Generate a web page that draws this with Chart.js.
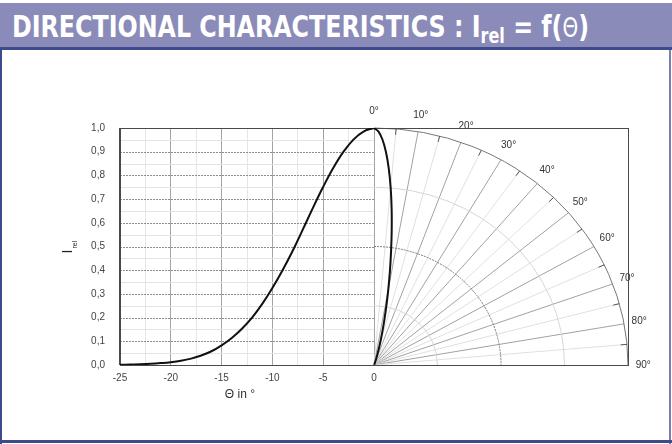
<!DOCTYPE html>
<html lang="en">
<head>
<meta charset="UTF-8">
<title>Directional characteristics</title>
<script src="https://cdn.jsdelivr.net/npm/chart.js"></script>
<style>
    html, body { margin: 0; padding: 0; background: #fff; }
    .frame {
        position: relative;
        width: 672px;
        height: 444px;
        overflow: hidden;
        background: #fff;
    }
    .header {
        position: absolute;
        left: 0; top: 3px;
        width: 672px; height: 44px;
        background: #8b8bb9;
        border-bottom: 3px solid #3d4b8d;
    }
    .header .txt {
        position: absolute;
        left: 12px; top: 5px;
        display: inline-block;
        white-space: nowrap;
        color: #fff;
        font-family: "Liberation Sans Narrow", "DejaVu Sans Condensed", "Arial Narrow", sans-serif;
        font-stretch: condensed;
        font-weight: bold;
        font-size: 31px;
        line-height: 36px;
        transform-origin: 0 0;
    }
    .header .txt sub { font-size: 21px; vertical-align: -6px; line-height: 0; }
    .header .txt .th { font-family: "DejaVu Sans", sans-serif; font-weight: normal; font-size: 26px; }
    .side-l, .side-r, .bottom { position: absolute; background: #3d4b8d; }
    .side-l { left: 0; top: 50px; width: 2px; height: 394px; }
    .side-r { right: 1px; top: 50px; width: 2px; height: 394px; background: #7d7db0; }
    .bottom { left: 0; bottom: 1px; width: 672px; height: 3px; }
    #chart { position: absolute; left: 0; top: 50px; }
</style>
</head>
<body>
<div class="frame">
    <div class="header"><span class="txt" id="title">DIRECTIONAL CHARACTERISTICS : I<sub>rel</sub> = f(<span class="th">&Theta;</span>)</span></div>
    <canvas id="chart" width="672" height="388"></canvas>
    <div class="side-l"></div>
    <div class="side-r"></div>
    <div class="bottom"></div>
</div>

<script>
    // angle in degrees (left half of the diagram, Cartesian)
    const thetaDeg = [-25, -24, -23, -22, -21, -20, -19, -18, -17, -16, -15, -14, -13,
                      -12, -11, -10, -9, -8, -7, -6, -5, -4, -3, -2, -1, 0];
    // relative intensity
    const iRel = [0.001, 0.002, 0.003, 0.005, 0.008, 0.012, 0.018, 0.027, 0.040, 0.058, 0.083, 0.114, 0.153,
                  0.200, 0.258, 0.325, 0.400, 0.482, 0.572, 0.664, 0.752, 0.832, 0.900, 0.952, 0.986, 1.000];

    // polar quadrant on the right
    const polarAngles = [0, 10, 20, 30, 40, 50, 60, 70, 80, 90];
    const angleLabels = ['0°', '10°', '20°', '30°', '40°', '50°', '60°', '70°', '80°', '90°'];
    const polarRings = [0.25, 0.5, 0.75, 1.0];
    const xHalf = 25; // one radius unit across equals 25 units of the theta axis

    // fit header text width
    const title = document.getElementById('title');
    const w = title.getBoundingClientRect().width;
    title.style.transform = 'scaleX(' + (577 / w) + ')';

    const cartesian = thetaDeg.map((t, i) => ({ x: t, y: iRel[i] }));
    // same curve drawn in polar form (symmetric, using |theta|)
    const lobe = thetaDeg.slice().reverse().map((t, k) => {
        const r = iRel[iRel.length - 1 - k];
        const a = Math.abs(t) * Math.PI / 180;
        return { x: xHalf * r * Math.sin(a), y: r * Math.cos(a) };
    });

    const fmt = v => v.toFixed(1).replace('.', ',');

    const polarGrid = {
        id: 'polarGrid',
        beforeDatasetsDraw(chart) {
            const { ctx, chartArea: a, scales: { x, y } } = chart;
            const cx = x.getPixelForValue(0), cy = y.getPixelForValue(0);
            const rx = x.getPixelForValue(xHalf) - cx, ry = cy - y.getPixelForValue(1);
            ctx.save();

            // horizontal grid, left half only
            for (let k = 1; k < 20; k++) {
                const py = Math.round(y.getPixelForValue(k * 0.05)) + 0.5;
                ctx.beginPath();
                if (k % 2 === 0) { ctx.strokeStyle = '#8e8e8e'; ctx.setLineDash([2, 1]); }
                else { ctx.strokeStyle = '#e4e4e4'; ctx.setLineDash([]); }
                ctx.lineWidth = 1;
                ctx.moveTo(a.left, py);
                ctx.lineTo(cx, py);
                ctx.stroke();
            }
            ctx.setLineDash([]);

            // radial lines every 5 degrees
            for (let d = 5; d < 90; d += 5) {
                const r = d * Math.PI / 180;
                ctx.beginPath();
                ctx.strokeStyle = d % 10 === 0 ? '#a2a2a2' : '#e0e0e0';
                ctx.lineWidth = 1;
                ctx.moveTo(cx, cy);
                ctx.lineTo(cx + rx * Math.sin(r), cy - ry * Math.cos(r));
                ctx.stroke();
            }

            // rings
            polarRings.forEach(p => {
                ctx.beginPath();
                if (p === 0.5) { ctx.strokeStyle = '#7a7a7a'; ctx.setLineDash([2, 1]); }
                else if (p === 1) { ctx.strokeStyle = '#777'; ctx.setLineDash([]); }
                else { ctx.strokeStyle = '#d6d6d6'; ctx.setLineDash([]); }
                ctx.lineWidth = 1;
                ctx.ellipse(cx, cy, rx * p, ry * p, 0, -Math.PI / 2, 0);
                ctx.stroke();
            });
            ctx.setLineDash([]);

            // small ticks on outer ring
            for (let d = 5; d < 90; d += 10) {
                const r = d * Math.PI / 180;
                ctx.beginPath();
                ctx.strokeStyle = '#555';
                ctx.moveTo(cx + rx * Math.sin(r), cy - ry * Math.cos(r));
                ctx.lineTo(cx + rx * 0.975 * Math.sin(r), cy - ry * 0.975 * Math.cos(r));
                ctx.stroke();
            }

            // angle labels
            ctx.fillStyle = '#333';
            ctx.font = '10px "Liberation Sans", Arial, sans-serif';
            ctx.textAlign = 'center';
            ctx.textBaseline = 'middle';
            polarAngles.forEach((d, i) => {
                const r = d * Math.PI / 180;
                ctx.fillText(angleLabels[i], cx + rx * 1.06 * Math.sin(r), cy - ry * 1.07 * Math.cos(r));
            });

            // frame
            ctx.strokeStyle = '#4a4a4a';
            ctx.lineWidth = 1;
            ctx.strokeRect(Math.round(a.left) + 0.5, Math.round(a.top) + 0.5,
                Math.round(a.right - a.left), Math.round(a.bottom - a.top));
            ctx.lineWidth = 2;
            ctx.beginPath();
            ctx.moveTo(a.left, a.top);
            ctx.lineTo(a.left, a.bottom);
            ctx.stroke();

            // axis titles
            ctx.fillStyle = '#333';
            ctx.font = '12px "Liberation Sans", Arial, sans-serif';
            ctx.textAlign = 'center';
            ctx.textBaseline = 'alphabetic';
            ctx.fillText('Θ in °', x.getPixelForValue(-13.2), a.bottom + 33);

            ctx.translate(72, y.getPixelForValue(0.47));
            ctx.rotate(-Math.PI / 2);
            ctx.textAlign = 'left';
            ctx.fillStyle = '#222';
            ctx.font = '14px "Liberation Sans", Arial, sans-serif';
            ctx.fillText('I', 0, 0);
            ctx.font = '7px "Liberation Sans", Arial, sans-serif';
            ctx.fillText('rel', 5, 5);
            ctx.restore();
        }
    };

    new Chart(document.getElementById('chart').getContext('2d'), {
        type: 'scatter',
        data: {
            datasets: [
                {
                    data: cartesian,
                    showLine: true,
                    borderColor: '#111',
                    borderWidth: 2,
                    pointRadius: 0,
                    tension: 0.4
                },
                {
                    data: lobe,
                    showLine: true,
                    borderColor: '#111',
                    borderWidth: 2,
                    pointRadius: 0,
                    tension: 0.3
                }
            ]
        },
        options: {
            responsive: false,
            animation: false,
            events: [],
            layout: { padding: { left: 80, right: 44, top: 78, bottom: 43 } },
            plugins: { legend: { display: false }, tooltip: { enabled: false } },
            scales: {
                x: {
                    type: 'linear',
                    min: -25,
                    max: 25,
                    afterFit: s => { s.height = 30; },
                    border: { display: false },
                    grid: {
                        drawTicks: false,
                        color: c => {
                            const v = c.tick ? c.tick.value : 0;
                            if (v > 0) return 'rgba(0,0,0,0)';
                            return Math.abs(v % 5) < 1e-6 ? '#a4a4a4' : '#e6e6e6';
                        }
                    },
                    ticks: {
                        stepSize: 2.5,
                        autoSkip: false,
                        maxRotation: 0,
                        padding: 7,
                        color: '#444',
                        font: { family: '"Liberation Sans", Arial, sans-serif', size: 10 },
                        callback: v => (v <= 0 && Math.abs(v % 5) < 1e-6) ? String(Math.round(v)) : ''
                    }
                },
                y: {
                    min: 0,
                    max: 1,
                    afterFit: s => { s.width = 40; },
                    border: { display: false },
                    grid: { display: false },
                    ticks: {
                        stepSize: 0.1,
                        padding: 7,
                        color: '#444',
                        font: { family: '"Liberation Sans", Arial, sans-serif', size: 10 },
                        callback: v => fmt(v)
                    }
                }
            }
        },
        plugins: [polarGrid]
    });
</script>
</body>
</html>
